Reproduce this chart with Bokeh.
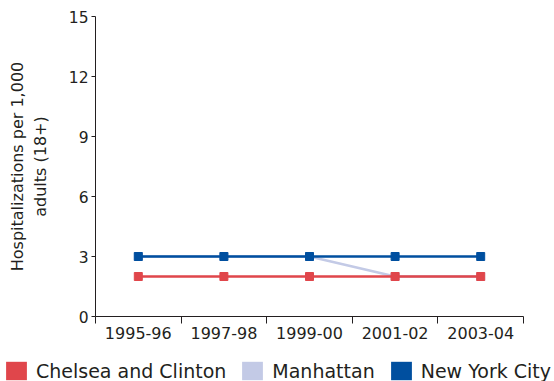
from bokeh.plotting import figure
from bokeh.layouts import column, row
from bokeh.models import Range1d, FixedTicker, Legend, LegendItem, ColumnDataSource
from bokeh.embed import file_html
from bokeh.resources import INLINE

periods = ["1995-96", "1997-98", "1999-00", "2001-02", "2003-04"]
chelsea = [2, 2, 2, 2, 2]
manhattan = [3, 3, 3, 2, 2]
nyc = [3, 3, 3, 3, 3]
y_ticks = [0, 3, 6, 9, 12, 15]

series_names = ["Chelsea and Clinton", "Manhattan", "New York City"]
colors = ["#e0464b", "#c3cae6", "#004f9f"]

xpos = [i + 0.5 for i in range(len(periods))]

FONT = "DejaVu Sans"
TXT = "#231f20"

p = figure(width=554, height=351,
           min_border_left=95, min_border_right=31, min_border_top=16, min_border_bottom=35,
           x_range=Range1d(0, len(periods)), y_range=Range1d(0, 15),
           output_backend="svg", toolbar_location=None)
p.outline_line_color = None
p.xgrid.visible = False
p.ygrid.visible = False
p.background_fill_color = "white"

# x axis: boundary ticks (minor), labels at category centres
xa = p.xaxis[0]
xa.ticker = FixedTicker(ticks=xpos, minor_ticks=list(range(len(periods) + 1)))
xa.major_label_overrides = {x: lab for x, lab in zip(xpos, periods)}
xa.major_tick_out = 0
xa.major_tick_in = 0
xa.minor_tick_out = 7
xa.minor_tick_in = 0
xa.minor_tick_line_color = TXT
xa.axis_line_color = TXT
xa.major_label_text_font = FONT
xa.major_label_text_font_size = "16px"
xa.major_label_text_color = TXT
xa.major_label_standoff = 3

ya = p.yaxis[0]
ya.ticker = FixedTicker(ticks=y_ticks, minor_ticks=[])
ya.major_tick_out = 4
ya.major_tick_in = 0
ya.major_tick_line_color = TXT
ya.axis_line_color = TXT
ya.major_label_text_font = FONT
ya.major_label_text_font_size = "15.5px"
ya.major_label_text_color = TXT
ya.major_label_standoff = 3
ya.axis_label = "Hospitalizations per 1,000\nadults (18+)"
ya.axis_label_text_font = FONT
ya.axis_label_text_font_size = "16px"
ya.axis_label_text_font_style = "normal"
ya.axis_label_text_color = TXT
ya.axis_label_standoff = 16

data = [chelsea, manhattan, nyc]
order = [1, 0, 2]
for i in order:
    src = ColumnDataSource(dict(x=xpos, y=data[i]))
    p.line("x", "y", source=src, line_color=colors[i], line_width=2.5)
    p.scatter("x", "y", source=src, marker="square", size=8,
              fill_color=colors[i], line_color=colors[i])

# legend strip below the chart
lg = figure(width=554, height=30, min_border=0,
            min_border_left=0, min_border_right=0, min_border_top=0, min_border_bottom=0,
            x_range=Range1d(0, 1), y_range=Range1d(0, 1),
            x_axis_location=None, y_axis_location=None,
            output_backend="svg", toolbar_location=None)
lg.xgrid.visible = False
lg.ygrid.visible = False
lg.outline_line_color = None

items = []
for name, c in zip(series_names, colors):
    # swatch renderer kept outside the visible range; only its legend entry shows
    r = lg.quad(left=[2], right=[3], top=[3], bottom=[2], fill_color=c, line_color=None)
    items.append(LegendItem(label=name, renderers=[r]))

legend = Legend(items=items, orientation="horizontal", location=(3, -1),
                glyph_width=26, glyph_height=23, label_standoff=7, spacing=13,
                padding=0, margin=0, border_line_color=None,
                background_fill_alpha=0,
                label_text_font=FONT, label_text_font_size="19px",
                label_text_color=TXT)
lg.add_layout(legend, "center")

layout = column(p, row(lg), spacing=0)
open("out.html", "w").write(file_html(layout, INLINE))
